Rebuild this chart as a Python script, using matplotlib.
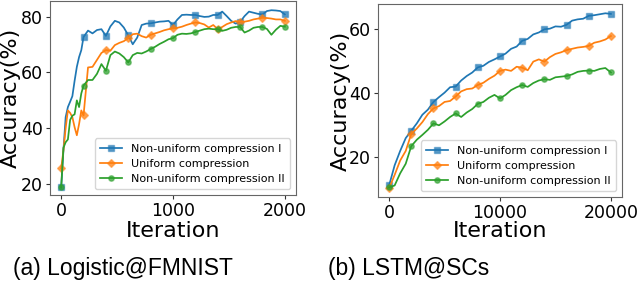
import numpy as np
import matplotlib
matplotlib.use("Agg")
import matplotlib.pyplot as plt
from matplotlib.colors import to_rgba

# ---------------- data: (a) Logistic@FMNIST ----------------
iters_a = [0, 20, 40, 60, 80, 100, 120, 140, 160, 180, 200,
           240, 280, 320, 360, 400, 440, 480, 520, 560, 600,
           640, 680, 720, 760, 800, 840, 880, 920, 960, 1000,
           1040, 1080, 1120, 1160, 1200, 1240, 1280, 1320, 1360, 1400,
           1440, 1480, 1520, 1560, 1600, 1640, 1680, 1720, 1760, 1800,
           1840, 1880, 1920, 1960, 2000]
nonuni1_a = [18.8, 32, 44, 47.6, 49.5, 51.5, 57, 62, 65.5, 68, 72.7,
             75.0, 74.0, 75.2, 75.5, 73.1, 76.5, 78.5, 77.9, 76.1, 73.3,
             70.1, 72.5, 77.0, 77.5, 77.6, 77.9, 78.2, 78.3, 78.5, 77.0,
             79.0, 80.6, 80.7, 80.6, 80.6, 80.2, 79.9, 80.0, 80.6, 80.6,
             81.8, 80.2, 78.5, 77.5, 78.1, 80.2, 81.8, 81.4, 81.0, 80.8,
             82.0, 82.3, 82.2, 82.0, 80.8]
uniform_a = [25.6, 32, 40, 46.4, 45.5, 44, 40.4, 37.5, 41.5, 46.4, 44.6,
             61.8, 62.0, 64.5, 67.0, 68.0, 67.8, 69.8, 70.6, 71.2, 72.3,
             73.7, 73.9, 73.0, 72.5, 73.5, 74.0, 74.5, 75.1, 75.5, 75.8,
             76.0, 76.4, 77.0, 77.5, 77.9, 77.7, 77.2, 76.1, 77.0, 75.5,
             76.3, 77.3, 77.9, 78.4, 78.2, 78.2, 78.5, 79.0, 79.3, 79.6,
             79.5, 79.3, 79.0, 79.0, 78.5]
nonuni2_a = [18.8, 33, 35, 36, 43, 44.5, 45, 50, 47.6, 52.5, 55.3,
             57.3, 57.3, 59.5, 63.0, 60.6, 66.2, 67.5, 66.8, 65.5, 63.6,
             66.2, 67.0, 66.8, 67.5, 68.4, 69.2, 70.2, 71.0, 71.9, 72.3,
             73.5, 73.9, 73.8, 74.0, 74.5, 75.0, 75.5, 75.7, 75.5, 75.5,
             74.9, 75.3, 76.0, 76.3, 76.3, 74.3, 75.0, 76.0, 76.3, 76.3,
             75.6, 73.5, 75.3, 76.7, 76.4]

# ---------------- data: (b) LSTM@SCs ----------------
iters_b = list(range(0, 20001, 500))
nonuni1_b = [11.2, 17.5, 22.0, 26.0, 28.3, 30.6, 33.3, 34.9, 37.3, 38.8,
             40.2, 41.9, 42.1, 44.0, 45.4, 46.5, 48.1, 48.6, 49.8, 50.6,
             51.5, 52.4, 53.9, 54.6, 56.4, 57.0, 58.4, 59.0, 60.0, 60.2,
             60.9, 60.8, 61.4, 62.7, 63.1, 63.3, 64.2, 64.4, 64.7, 65.0,
             64.8]
uniform_b = [10.3, 14.5, 19.0, 22.0, 27.3, 29.0, 31.0, 33.5, 35.3, 36.0,
             37.3, 37.6, 39.0, 40.6, 41.3, 41.5, 42.6, 43.3, 44.5, 45.5,
             47.0, 47.4, 47.0, 48.3, 48.0, 47.2, 49.9, 50.6, 49.9, 51.3,
             52.3, 52.8, 53.5, 53.9, 54.3, 54.5, 54.8, 55.8, 56.2, 56.8,
             57.9]
nonuni2_b = [10.6, 11.2, 15.0, 18.0, 23.5, 25.5, 27.0, 28.6, 30.6, 30.0,
             31.2, 32.6, 33.7, 32.6, 34.0, 35.1, 36.7, 37.3, 38.6, 39.5,
             38.4, 39.5, 41.0, 41.9, 42.6, 42.0, 43.2, 44.0, 44.4, 44.2,
             45.0, 45.2, 45.4, 45.9, 46.7, 47.0, 47.1, 47.0, 47.6, 47.9,
             46.5]

labels = ["Non-uniform compression I", "Uniform compression",
          "Non-uniform compression II"]
captions = ["(a) Logistic@FMNIST", "(b) LSTM@SCs"]
yticks_a = [20, 40, 60, 80]
xticks_a = [0, 1000, 2000]
yticks_b = [20, 40, 60]
xticks_b = [0, 10000, 20000]

colors = ["#1f77b4", "#ff7f0e", "#2ca02c"]
markers = ["s", "D", "o"]

W, H = 638, 284
fig = plt.figure(figsize=(W / 100, H / 100), dpi=100)


def box(l, r, t, b):
    return [l / W, 1 - b / H, (r - l) / W, (b - t) / H]


ax1 = fig.add_axes(box(50, 296, 1, 195))
ax2 = fig.add_axes(box(378, 622, 4, 197))


def draw(ax, x, series, mark_step, yticks, xticks, ylim, ylab_x, xlab_y):
    x = np.asarray(x)
    idx = [i for i, v in enumerate(x) if v % mark_step == 0]
    for ys, c, m, lab in zip(series, colors, markers, labels):
        ax.plot(x, ys, color=c, lw=1.25, marker=m, markevery=idx,
                markersize=4.5 if m == "s" else 4.0,
                markerfacecolor=to_rgba(c, 0.75),
                markeredgecolor=to_rgba(c, 0.45), markeredgewidth=1.0,
                label=lab)
    ax.set_yticks(yticks)
    ax.set_xticks(xticks)
    ax.set_ylim(*ylim)
    ax.tick_params(labelsize=12.5, length=3, pad=2, color="#333333")
    for s in ax.spines.values():
        s.set_color("#666666")
    ax.set_ylabel("Accuracy(%)", fontsize=16)
    ax.set_xlabel("Iteration", fontsize=16)
    ax.yaxis.set_label_coords(ylab_x, 0.5)
    ax.xaxis.set_label_coords(0.5, xlab_y)
    leg = ax.legend(loc="lower right", fontsize=8, frameon=True,
                    borderpad=0.5, handlelength=2.0, labelspacing=0.45)
    leg.get_frame().set_edgecolor("#cccccc")


draw(ax1, iters_a, [nonuni1_a, uniform_a, nonuni2_a], 200, yticks_a,
     xticks_a, (16.1, 85.6), -0.12, -0.132)
draw(ax2, iters_b, [nonuni1_b, uniform_b, nonuni2_b], 2000, yticks_b,
     xticks_b, (7.6, 67.9), -0.112, -0.126)

fig.text(123 / W, 1 - 268 / H, captions[0], ha="center", va="center",
         fontsize=16.5, family="Liberation Sans")
fig.text(409 / W, 1 - 268 / H, captions[1], ha="center", va="center",
         fontsize=16.5, family="Liberation Sans")

fig.savefig("out.png", dpi=100)
